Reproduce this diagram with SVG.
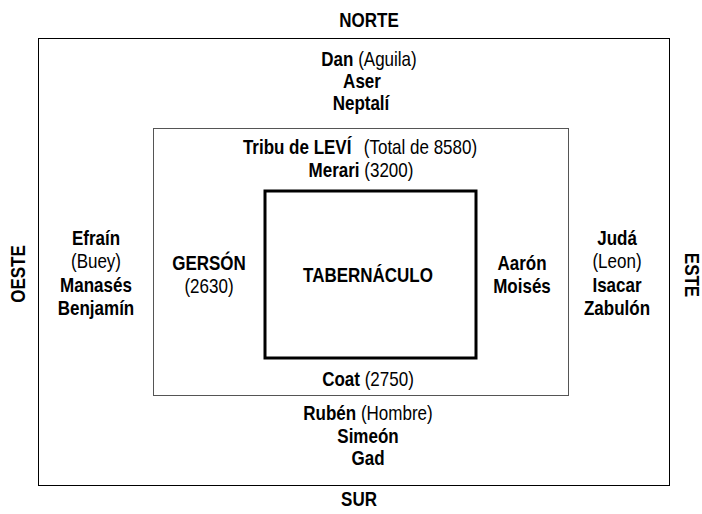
<svg xmlns="http://www.w3.org/2000/svg" width="702" height="514" viewBox="0 0 702 514">
<style>
text{font-family:"Liberation Sans",Arial,sans-serif;font-size:20px;fill:#000;text-anchor:middle}
.b{font-weight:bold}
.n{font-weight:normal}
.outer{fill:none;stroke:#000;stroke-width:1}
.mid{fill:none;stroke:#555;stroke-width:1}
.tab{fill:none;stroke:#000;stroke-width:3}
</style>
<rect width="702" height="514" fill="#fff"/>
<g id="connectors"/>
<g id="campamento">
<rect class="outer" x="38.5" y="38.5" width="631" height="447"/>
</g>
<g id="levi">
<rect class="mid" x="153.5" y="128.5" width="415" height="267"/>
</g>
<g id="tabernaculo">
<rect class="tab" x="265" y="191" width="211" height="167"/>
<text class="b" transform="translate(368,282) scale(0.85,1)">TABERNÁCULO</text>
</g>
<g id="norte">
<text class="b" transform="translate(369,27) scale(0.85,1)">NORTE</text>
<text class="b" transform="translate(369,66) scale(0.85,1)">Dan <tspan class="n">(Aguila)</tspan></text>
<text class="b" transform="translate(362,88) scale(0.85,1)">Aser</text>
<text class="b" transform="translate(361,110) scale(0.85,1)">Neptalí</text>
</g>
<g id="merari">
<text class="b" transform="translate(360,154) scale(0.85,1)">Tribu de LEVÍ <tspan class="n" dx="9">(Total de 8580)</tspan></text>
<text class="b" transform="translate(361,177) scale(0.85,1)">Merari <tspan class="n">(3200)</tspan></text>
</g>
<g id="gerson">
<text class="b" transform="translate(209,270) scale(0.85,1)">GERSÓN</text>
<text class="n" transform="translate(209,293) scale(0.85,1)">(2630)</text>
</g>
<g id="aaron">
<text class="b" transform="translate(522,270) scale(0.85,1)">Aarón</text>
<text class="b" transform="translate(522,293) scale(0.85,1)">Moisés</text>
</g>
<g id="coat">
<text class="b" transform="translate(368,386) scale(0.85,1)">Coat <tspan class="n">(2750)</tspan></text>
</g>
<g id="oeste">
<text class="b" transform="translate(96,245) scale(0.85,1)">Efraín</text>
<text class="n" transform="translate(96,268) scale(0.85,1)">(Buey)</text>
<text class="b" transform="translate(96,292) scale(0.85,1)">Manasés</text>
<text class="b" transform="translate(96,315) scale(0.85,1)">Benjamín</text>
<text class="b" transform="translate(25,274) rotate(-90) scale(0.85,1)">OESTE</text>
</g>
<g id="este">
<text class="b" transform="translate(617,245) scale(0.85,1)">Judá</text>
<text class="n" transform="translate(617,268) scale(0.85,1)">(Leon)</text>
<text class="b" transform="translate(617,292) scale(0.85,1)">Isacar</text>
<text class="b" transform="translate(617,315) scale(0.85,1)">Zabulón</text>
<text class="b" transform="translate(685,275) rotate(90) scale(0.85,1)">ESTE</text>
</g>
<g id="sur">
<text class="b" transform="translate(368,420) scale(0.85,1)">Rubén <tspan class="n">(Hombre)</tspan></text>
<text class="b" transform="translate(368,443) scale(0.85,1)">Simeón</text>
<text class="b" transform="translate(368,465) scale(0.85,1)">Gad</text>
<text class="b" transform="translate(359,506) scale(0.85,1)">SUR</text>
</g>
</svg>
